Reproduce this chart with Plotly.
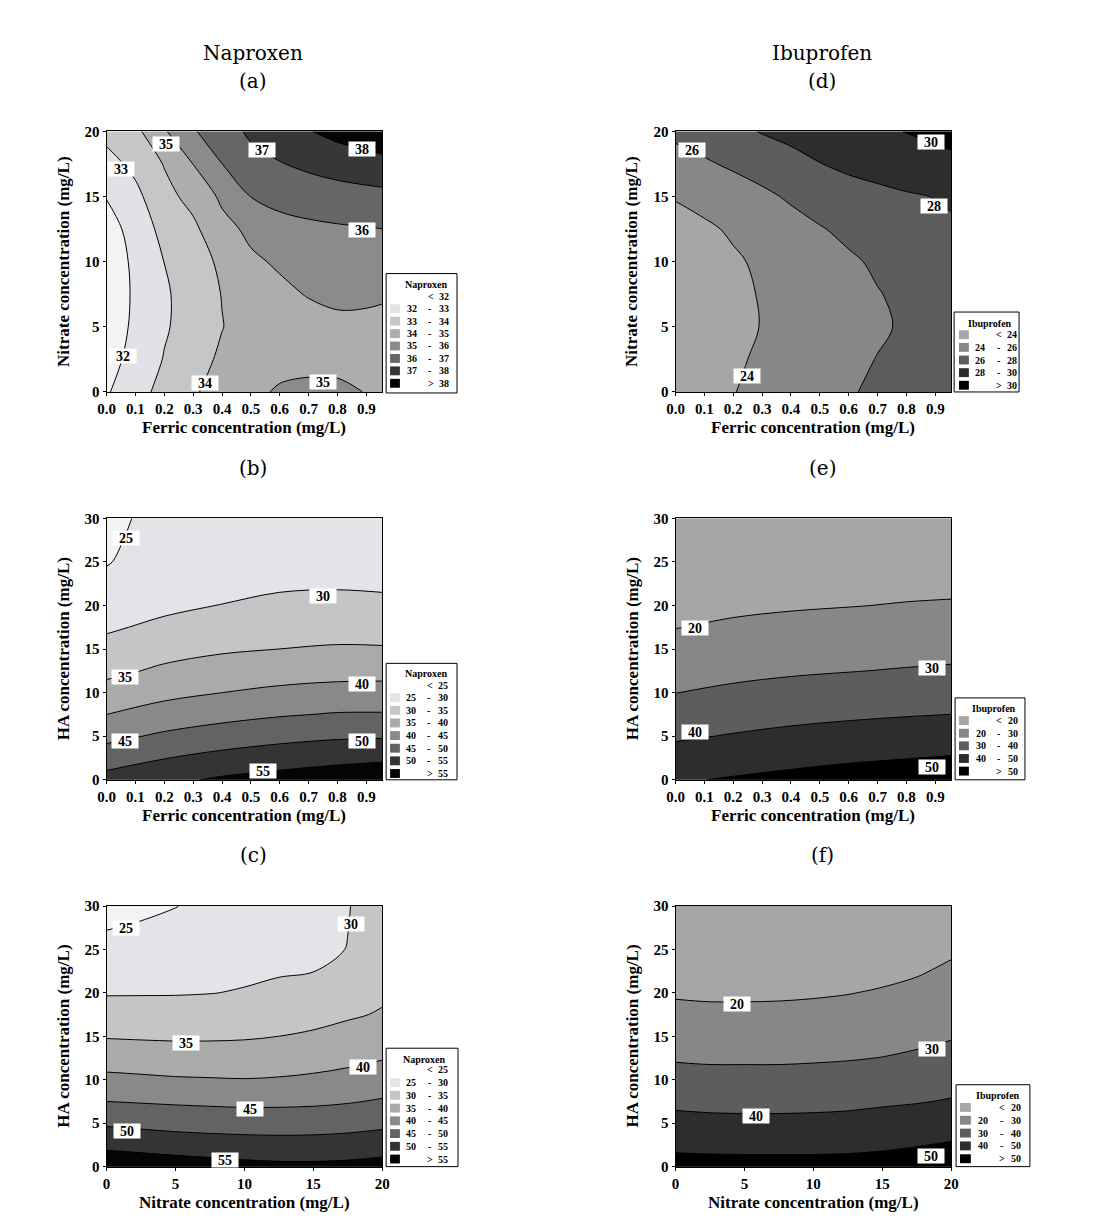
import plotly.graph_objects as go

# page is 1102 x 1230; the browser body keeps its default 8px margin,
# so the figure itself is 16px smaller and all pixel positions are shifted by 8
PAGE_W, PAGE_H = 1102, 1230
OFF = 8
W, H = PAGE_W - 2 * OFF, PAGE_H - 2 * OFF

# ---------------- data ----------------
ferric_fine = [0.0, 0.1, 0.2, 0.3, 0.4, 0.5, 0.6, 0.7, 0.8, 0.9, 1.0]
nitrate_rows = [0, 2.5, 5, 7.5, 10, 12.5, 15, 17.5, 20]
ferric_coarse = [0.0, 0.2, 0.4, 0.6, 0.8, 1.0]
nitrate_cols = [0, 2.5, 5, 7.5, 10, 12.5, 15, 17.5, 20]
ha_rows = [0, 2.5, 5, 7.5, 10, 12.5, 15, 17.5, 20, 22.5, 25, 27.5, 30]

levels_a = [32, 33, 34, 35, 36, 37, 38]
levels_bc = [25, 30, 35, 40, 45, 50, 55]
levels_d = [24, 26, 28, 30]
levels_ef = [20, 30, 40, 50]

# (a) Naproxen: ferric (x) vs nitrate (y)
z_a = [
    [31.9, 32.65, 33.3, 33.9, 34.35, 34.8, 35.1, 35.25, 35.2, 34.97, 34.8],
    [31.6, 32.35, 33.05, 33.6, 34.17, 34.55, 34.72, 34.7, 34.73, 34.75, 34.7],
    [31.4, 32.2, 32.9, 33.4, 33.97, 34.45, 34.6, 34.65, 34.78, 34.8, 34.75],
    [31.35, 32.15, 32.88, 33.4, 34.03, 34.6, 34.8, 35.05, 35.2, 35.15, 35.05],
    [31.4, 32.2, 33.01, 33.55, 34.19, 34.85, 35.12, 35.4, 35.55, 35.5, 35.45],
    [31.55, 32.4, 33.3, 33.8, 34.7, 35.2, 35.6, 35.8, 35.88, 35.95, 36.02],
    [32.05, 32.75, 33.7, 34.3, 35.175, 36.01, 36.35, 36.45, 36.6, 36.7, 36.75],
    [32.65, 33.25, 34.05, 35.01, 35.99, 36.7, 36.95, 37.2, 37.4, 37.55, 37.8],
    [33.3, 33.75, 34.9, 35.9, 36.6, 37.15, 37.55, 37.95, 38.3, 38.6, 38.85],
]

# (d) Ibuprofen: ferric (x) vs nitrate (y)
z_d = [
    [23.3, 23.6, 23.95, 24.4, 24.85, 25.35, 25.85, 26.3, 26.7, 27.05, 27.4],
    [23.1, 23.4, 23.8, 24.2, 24.65, 25.1, 25.6, 26.05, 26.45, 26.8, 27.15],
    [23.0, 23.25, 23.6, 24.05, 24.45, 24.9, 25.35, 25.78, 26.2, 26.6, 27.0],
    [23.0, 23.3, 23.65, 24.1, 24.55, 25.0, 25.45, 25.92, 26.35, 26.75, 27.15],
    [23.1, 23.4, 23.8, 24.25, 24.75, 25.25, 25.75, 26.25, 26.7, 27.1, 27.5],
    [23.4, 23.75, 24.2, 24.75, 25.3, 25.88, 26.4, 26.85, 27.25, 27.6, 27.9],
    [24.1, 24.5, 25.0, 25.6, 26.25, 26.8, 27.2, 27.5, 27.8, 28.05, 28.3],
    [25.3, 25.75, 26.3, 26.85, 27.35, 27.95, 28.4, 28.75, 29.1, 29.4, 29.7],
    [26.4, 26.95, 27.55, 28.1, 28.55, 28.95, 29.3, 29.65, 30.05, 30.4, 30.7],
]

# (b) Naproxen: ferric (x) vs HA (y)
z_b = [
    [51.8, 53.9, 55.67, 56.83, 57.9, 59.0],
    [47.58, 49.84, 51.5, 52.67, 53.62, 54.25],
    [43.68, 45.81, 47.33, 48.55, 49.35, 49.58],
    [39.98, 42.06, 43.47, 44.57, 45.32, 45.34],
    [36.71, 38.72, 39.99, 41.0, 41.62, 41.76],
    [33.85, 35.81, 37.09, 37.91, 38.37, 38.44],
    [31.44, 33.33, 34.4, 35.01, 35.47, 35.31],
    [29.37, 31.02, 32.24, 32.88, 33.19, 32.97],
    [27.78, 29.0, 30.09, 30.76, 31.03, 30.72],
    [26.2, 28.3, 29.0, 29.5, 29.6, 29.4],
    [24.7, 27.7, 28.4, 28.8, 28.9, 28.7],
    [24.1, 27.2, 27.9, 28.3, 28.4, 28.2],
    [23.6, 26.8, 27.5, 27.9, 28.0, 27.8],
]

# (e) Ibuprofen: ferric (x) vs HA (y)
z_e = [
    [49.0, 50.82, 52.45, 53.95, 54.99, 56.2],
    [43.77, 45.71, 47.35, 48.75, 49.79, 50.85],
    [38.75, 40.61, 42.24, 43.54, 44.58, 45.53],
    [34.29, 36.07, 37.5, 38.57, 39.46, 40.21],
    [29.86, 31.61, 33.04, 34.11, 35.0, 35.71],
    [26.49, 27.87, 28.93, 29.73, 30.54, 31.25],
    [23.11, 24.53, 25.6, 26.4, 27.07, 27.57],
    [19.8, 21.2, 22.27, 23.07, 23.73, 24.19],
    [17.5, 18.5, 19.2, 19.75, 20.4, 20.81],
    [15.5, 16.6, 17.2, 17.7, 18.0, 18.3],
    [13.8, 15.0, 15.5, 15.9, 16.2, 16.4],
    [12.3, 13.6, 14.0, 14.4, 14.7, 14.9],
    [11.0, 12.4, 12.8, 13.1, 13.4, 13.6],
]

# (c) Naproxen: nitrate (x) vs HA (y)
z_c = [
    [58.5, 58.02, 57.5, 56.98, 56.43, 56.02, 56.0, 56.23, 56.77],
    [53.89, 53.3, 52.69, 52.26, 51.96, 51.78, 51.83, 52.13, 52.74],
    [49.31, 48.77, 48.28, 48.0, 47.81, 47.77, 47.88, 48.26, 48.89],
    [45.01, 44.69, 44.38, 44.15, 43.94, 43.99, 44.19, 44.68, 45.42],
    [41.21, 40.85, 40.47, 40.31, 40.15, 40.36, 40.81, 41.52, 42.5],
    [37.82, 37.53, 37.28, 37.23, 37.27, 37.63, 38.1, 38.8, 39.74],
    [34.69, 34.5, 34.37, 34.4, 34.57, 35.01, 35.6, 36.48, 37.54],
    [32.08, 32.0, 31.94, 32.11, 32.41, 32.95, 33.6, 34.48, 35.35],
    [29.68, 29.72, 29.76, 29.92, 30.26, 30.9, 31.76, 33.02, 34.33],
    [28.05, 28.3, 28.54, 28.94, 29.3, 29.65, 29.93, 31.56, 33.54],
    [26.43, 26.88, 27.33, 27.97, 28.5, 29.04, 29.0, 30.1, 32.4],
    [24.82, 25.45, 26.12, 26.99, 27.7, 28.42, 28.8, 29.95, 31.6],
    [23.4, 24.05, 24.9, 26.0, 26.9, 27.8, 28.6, 29.9, 31.15],
]

# (f) Ibuprofen: nitrate (x) vs HA (y)
z_f = [
    [53.33, 53.12, 53.04, 53.04, 52.98, 53.13, 53.6, 54.69, 55.8],
    [48.13, 47.74, 47.61, 47.61, 47.66, 47.92, 48.6, 49.59, 50.8],
    [42.92, 42.37, 42.17, 42.17, 42.34, 42.71, 43.6, 44.49, 45.8],
    [38.0, 37.45, 37.32, 37.32, 37.54, 37.93, 38.79, 39.51, 40.62],
    [33.45, 32.91, 32.86, 32.86, 33.16, 33.62, 34.48, 35.41, 36.77],
    [29.18, 28.77, 28.77, 28.78, 29.07, 29.48, 30.17, 31.31, 32.92],
    [25.75, 25.34, 25.34, 25.41, 25.73, 26.23, 27.0, 28.0, 29.36],
    [22.33, 21.92, 21.92, 22.03, 22.4, 22.99, 23.88, 25.06, 26.7],
    [19.05, 18.68, 18.68, 18.8, 19.16, 19.76, 20.75, 22.12, 24.04],
    [17.0, 16.7, 16.7, 16.85, 17.2, 17.7, 17.9, 19.23, 21.38],
    [15.2, 14.9, 14.9, 15.05, 15.4, 15.9, 16.0, 17.0, 18.8],
    [13.6, 13.3, 13.3, 13.45, 13.8, 14.3, 14.4, 15.2, 16.9],
    [12.2, 11.9, 11.9, 12.05, 12.4, 12.9, 13.0, 13.7, 15.2],
]

# contour label positions (data coordinates) and texts
lab_a = ([0.206, 0.54, 0.886, 0.049, 0.886, 0.058, 0.342, 0.751],
         [19.04, 18.56, 18.66, 17.1, 12.4, 2.75, 0.68, 0.73],
         ["35", "37", "38", "33", "36", "32", "34", "35"])
lab_d = ([0.056, 0.885, 0.897, 0.247], [18.6, 19.17, 14.27, 1.24], ["26", "30", "28", "24"])
lab_b = ([0.068, 0.751, 0.064, 0.884, 0.0625, 0.884, 0.543],
         [27.7, 21.1, 11.85, 10.98, 4.45, 4.45, 1.05],
         ["25", "30", "35", "40", "45", "50", "55"])
lab_e = ([0.067, 0.887, 0.069, 0.887], [17.4, 12.8, 5.5, 1.44], ["20", "30", "40", "50"])
lab_c = ([1.38, 17.74, 5.74, 18.6, 10.43, 1.45, 8.6],
         [27.43, 27.9, 14.19, 11.43, 6.62, 4.12, 0.72],
         ["25", "30", "35", "40", "45", "50", "55"])
lab_f = ([4.43, 18.6, 5.86, 18.55], [18.7, 13.59, 5.83, 1.28], ["20", "30", "40", "50"])

ferric_ticks = [0.0, 0.1, 0.2, 0.3, 0.4, 0.5, 0.6, 0.7, 0.8, 0.9]
ferric_ticktext = ["0.0", "0.1", "0.2", "0.3", "0.4", "0.5", "0.6", "0.7", "0.8", "0.9"]
nitrate_ticks = [0, 5, 10, 15, 20]
ha_ticks = [0, 5, 10, 15, 20, 25, 30]

# ---------------- styles ----------------
nap_colors_a = ['#f3f3f5', '#e2e2e6', '#c6c6c8', '#adadad', '#8b8b8b', '#666666', '#373737', '#050505']
nap_colors_bc = ['#f3f3f5', '#e4e4e8', '#c5c5c7', '#aaaaaa', '#898989', '#636363', '#343434', '#050505']
ibu_colors = ['#a6a6a6', '#878787', '#5d5d5d', '#2d2d2d', '#000000']

SERIF = "Liberation Serif"
TITLE_FONT = "DejaVu Serif"

panels = [
    dict(box=(99, 125, 379, 389), x=ferric_fine, y=nitrate_rows, z=z_a, lev=levels_a, col=nap_colors_a,
         xr=[0, 0.955], xt=ferric_ticks, xtt=ferric_ticktext, yr=[0, 20], yt=nitrate_ticks,
         xtitle="Ferric concentration (mg/L)", ytitle="Nitrate concentration (mg/L)", lab=lab_a,
         leg=dict(name="Naproxen", box=(383, 269, 455, 390), title=(423, 280), row0=292, dy=12.6,
                  sw=(387, 397), lo=409, dash=427, hi=442, cmp=429, first_sw=False)),
    dict(box=(677, 125, 957, 389), x=ferric_fine, y=nitrate_rows, z=z_d, lev=levels_d, col=ibu_colors,
         xr=[0, 0.955], xt=ferric_ticks, xtt=ferric_ticktext, yr=[0, 20], yt=nitrate_ticks,
         xtitle="Ferric concentration (mg/L)", ytitle="Nitrate concentration (mg/L)", lab=lab_d,
         leg=dict(name="Ibuprofen", box=(960, 308, 1026, 389), title=(996, 320), row0=331, dy=12.8,
                  sw=(965, 975), lo=986, dash=1005, hi=1019, cmp=1006, first_sw=True)),
    dict(box=(99, 517, 379, 782), x=ferric_coarse, y=ha_rows, z=z_b, lev=levels_bc, col=nap_colors_bc,
         xr=[0, 0.955], xt=ferric_ticks, xtt=ferric_ticktext, yr=[0, 30], yt=ha_ticks,
         xtitle="Ferric concentration (mg/L)", ytitle="HA concentration (mg/L)", lab=lab_b,
         leg=dict(name="Naproxen", box=(383, 664, 455, 782), title=(423, 674), row0=686, dy=12.8,
                  sw=(387, 397), lo=408, dash=426, hi=441, cmp=428, first_sw=False)),
    dict(box=(677, 517, 957, 782), x=ferric_coarse, y=ha_rows, z=z_e, lev=levels_ef, col=ibu_colors,
         xr=[0, 0.955], xt=ferric_ticks, xtt=ferric_ticktext, yr=[0, 30], yt=ha_ticks,
         xtitle="Ferric concentration (mg/L)", ytitle="HA concentration (mg/L)", lab=lab_e,
         leg=dict(name="Ibuprofen", box=(961, 699, 1032, 782), title=(1001, 710), row0=722, dy=12.8,
                  sw=(965, 975), lo=987, dash=1005, hi=1020, cmp=1006, first_sw=True)),
    dict(box=(99, 910, 379, 1174), x=nitrate_cols, y=ha_rows, z=z_c, lev=levels_bc, col=nap_colors_bc,
         xr=[0, 20], xt=nitrate_ticks, xtt=[str(v) for v in nitrate_ticks], yr=[0, 30], yt=ha_ticks,
         xtitle="Nitrate concentration (mg/L)", ytitle="HA concentration (mg/L)", lab=lab_c,
         leg=dict(name="Naproxen", box=(383, 1054, 456, 1174), title=(421, 1065), row0=1076, dy=12.9,
                  sw=(387, 397), lo=408, dash=427, hi=441, cmp=428, first_sw=False)),
    dict(box=(677, 910, 957, 1174), x=nitrate_cols, y=ha_rows, z=z_f, lev=levels_ef, col=ibu_colors,
         xr=[0, 20], xt=nitrate_ticks, xtt=[str(v) for v in nitrate_ticks], yr=[0, 30], yt=ha_ticks,
         xtitle="Nitrate concentration (mg/L)", ytitle="HA concentration (mg/L)", lab=lab_f,
         leg=dict(name="Ibuprofen", box=(962, 1091, 1037, 1174), title=(1005, 1102), row0=1114, dy=13.0,
                  sw=(966, 977), lo=989, dash=1008, hi=1023, cmp=1009, first_sw=True)),
]


def pxx(p):
    return (p - OFF) / W


def pxy(p):
    return 1 - (p - OFF) / H


fig = go.Figure()
annotations = []
shapes = []
layout_axes = {}

for i, p in enumerate(panels, start=1):
    xa = "x" if i == 1 else f"x{i}"
    ya = "y" if i == 1 else f"y{i}"
    xname = "xaxis" if i == 1 else f"xaxis{i}"
    yname = "yaxis" if i == 1 else f"yaxis{i}"
    lev = p["lev"]
    nc = len(lev)
    cs = lev[1] - lev[0]
    cscale = [[k / nc, c] for k, c in enumerate(p["col"])]
    fig.add_trace(go.Contour(
        x=p["x"], y=p["y"], z=p["z"], xaxis=xa, yaxis=ya,
        autocontour=False,
        contours=dict(start=lev[0], end=lev[-1], size=cs, coloring="fill", showlines=True),
        colorscale=cscale, showscale=False,
        line=dict(color="black", width=1, smoothing=1.0),
        hoverinfo="skip",
    ))
    x0, y0, x1, y1 = p["box"]
    tickfont = dict(family=SERIF, size=15, color="black", weight="bold")
    layout_axes[xname] = dict(domain=[pxx(x0), pxx(x1)], range=p["xr"], anchor=ya,
                              tickmode="array", tickvals=p["xt"], ticktext=p["xtt"],
                              showline=True, mirror=True, linecolor="black", linewidth=1,
                              ticks="outside", ticklen=3, tickcolor="black",
                              showgrid=False, zeroline=False, tickfont=tickfont, fixedrange=True)
    layout_axes[yname] = dict(domain=[pxy(y1), pxy(y0)], range=p["yr"], anchor=xa,
                              tickmode="array", tickvals=p["yt"],
                              showline=True, mirror=True, linecolor="black", linewidth=1,
                              ticks="outside", ticklen=3, tickcolor="black",
                              showgrid=False, zeroline=False, tickfont=tickfont, fixedrange=True)
    # contour labels
    for lx, ly, lt in zip(*p["lab"]):
        annotations.append(dict(x=lx, y=ly, xref=xa, yref=ya, text=lt, showarrow=False,
                                bgcolor="white", width=26, height=14, borderpad=0,
                                font=dict(family=SERIF, size=14, color="black", weight="bold")))
    # axis titles
    annotations.append(dict(x=pxx((x0 + x1) / 2), y=pxy(y1 + 36), xref="paper", yref="paper",
                            text=p["xtitle"], showarrow=False, xanchor="center", yanchor="middle",
                            font=dict(family=SERIF, size=17, color="black", weight="bold")))
    annotations.append(dict(x=pxx(x0 - 44), y=pxy((y0 + y1) / 2), xref="paper", yref="paper",
                            text=p["ytitle"], showarrow=False, textangle=-90,
                            xanchor="center", yanchor="middle",
                            font=dict(family=SERIF, size=17, color="black", weight="bold")))
    # legend box
    lg = p["leg"]
    bl, bt, br, bb = lg["box"]
    shapes.append(dict(type="rect", xref="paper", yref="paper", x0=pxx(bl), x1=pxx(br),
                       y0=pxy(bb), y1=pxy(bt), line=dict(color="black", width=1), fillcolor="white"))
    lfont = dict(family=SERIF, size=10, color="black", weight="bold")
    annotations.append(dict(x=pxx(lg["title"][0]), y=pxy(lg["title"][1]), xref="paper", yref="paper",
                            text=lg["name"], showarrow=False, xanchor="center", yanchor="middle",
                            font=lfont))
    nrows = nc + 1
    for r in range(nrows):
        cy = lg["row0"] + r * lg["dy"]
        color = p["col"][r]
        if r > 0 or lg["first_sw"]:
            shapes.append(dict(type="rect", xref="paper", yref="paper",
                               x0=pxx(lg["sw"][0]), x1=pxx(lg["sw"][1]),
                               y0=pxy(cy + 4.5), y1=pxy(cy - 4.5),
                               line=dict(width=0), fillcolor=color))
        if r == 0:
            items = [(lg["cmp"], "&lt;"), (lg["hi"], str(lev[0]))]
        elif r == nrows - 1:
            items = [(lg["cmp"], "&gt;"), (lg["hi"], str(lev[-1]))]
        else:
            items = [(lg["lo"], str(lev[r - 1])), (lg["dash"], "-"), (lg["hi"], str(lev[r]))]
        for tx, tt in items:
            annotations.append(dict(x=pxx(tx), y=pxy(cy), xref="paper", yref="paper", text=tt,
                                    showarrow=False, xanchor="center", yanchor="middle", font=lfont))

# column titles and panel letters
col_titles = [("Naproxen", 248, 46), ("Ibuprofen", 826, 46)]
panel_letters = [("(a)", 248, 74), ("(d)", 826, 74), ("(b)", 248, 466), ("(e)", 826, 466),
                 ("(c)", 248, 858), ("(f)", 826, 858)]
for t, x, y in col_titles + panel_letters:
    annotations.append(dict(x=pxx(x), y=pxy(y), xref="paper", yref="paper", text=t,
                            showarrow=False, xanchor="center", yanchor="middle",
                            font=dict(family=TITLE_FONT, size=20, color="black")))

fig.update_layout(width=W, height=H, autosize=False, margin=dict(l=0, r=0, t=0, b=0),
                  paper_bgcolor="white", plot_bgcolor="white", showlegend=False,
                  annotations=annotations, shapes=shapes, **layout_axes)

fig.write_html("out.html", config={"displayModeBar": False})
